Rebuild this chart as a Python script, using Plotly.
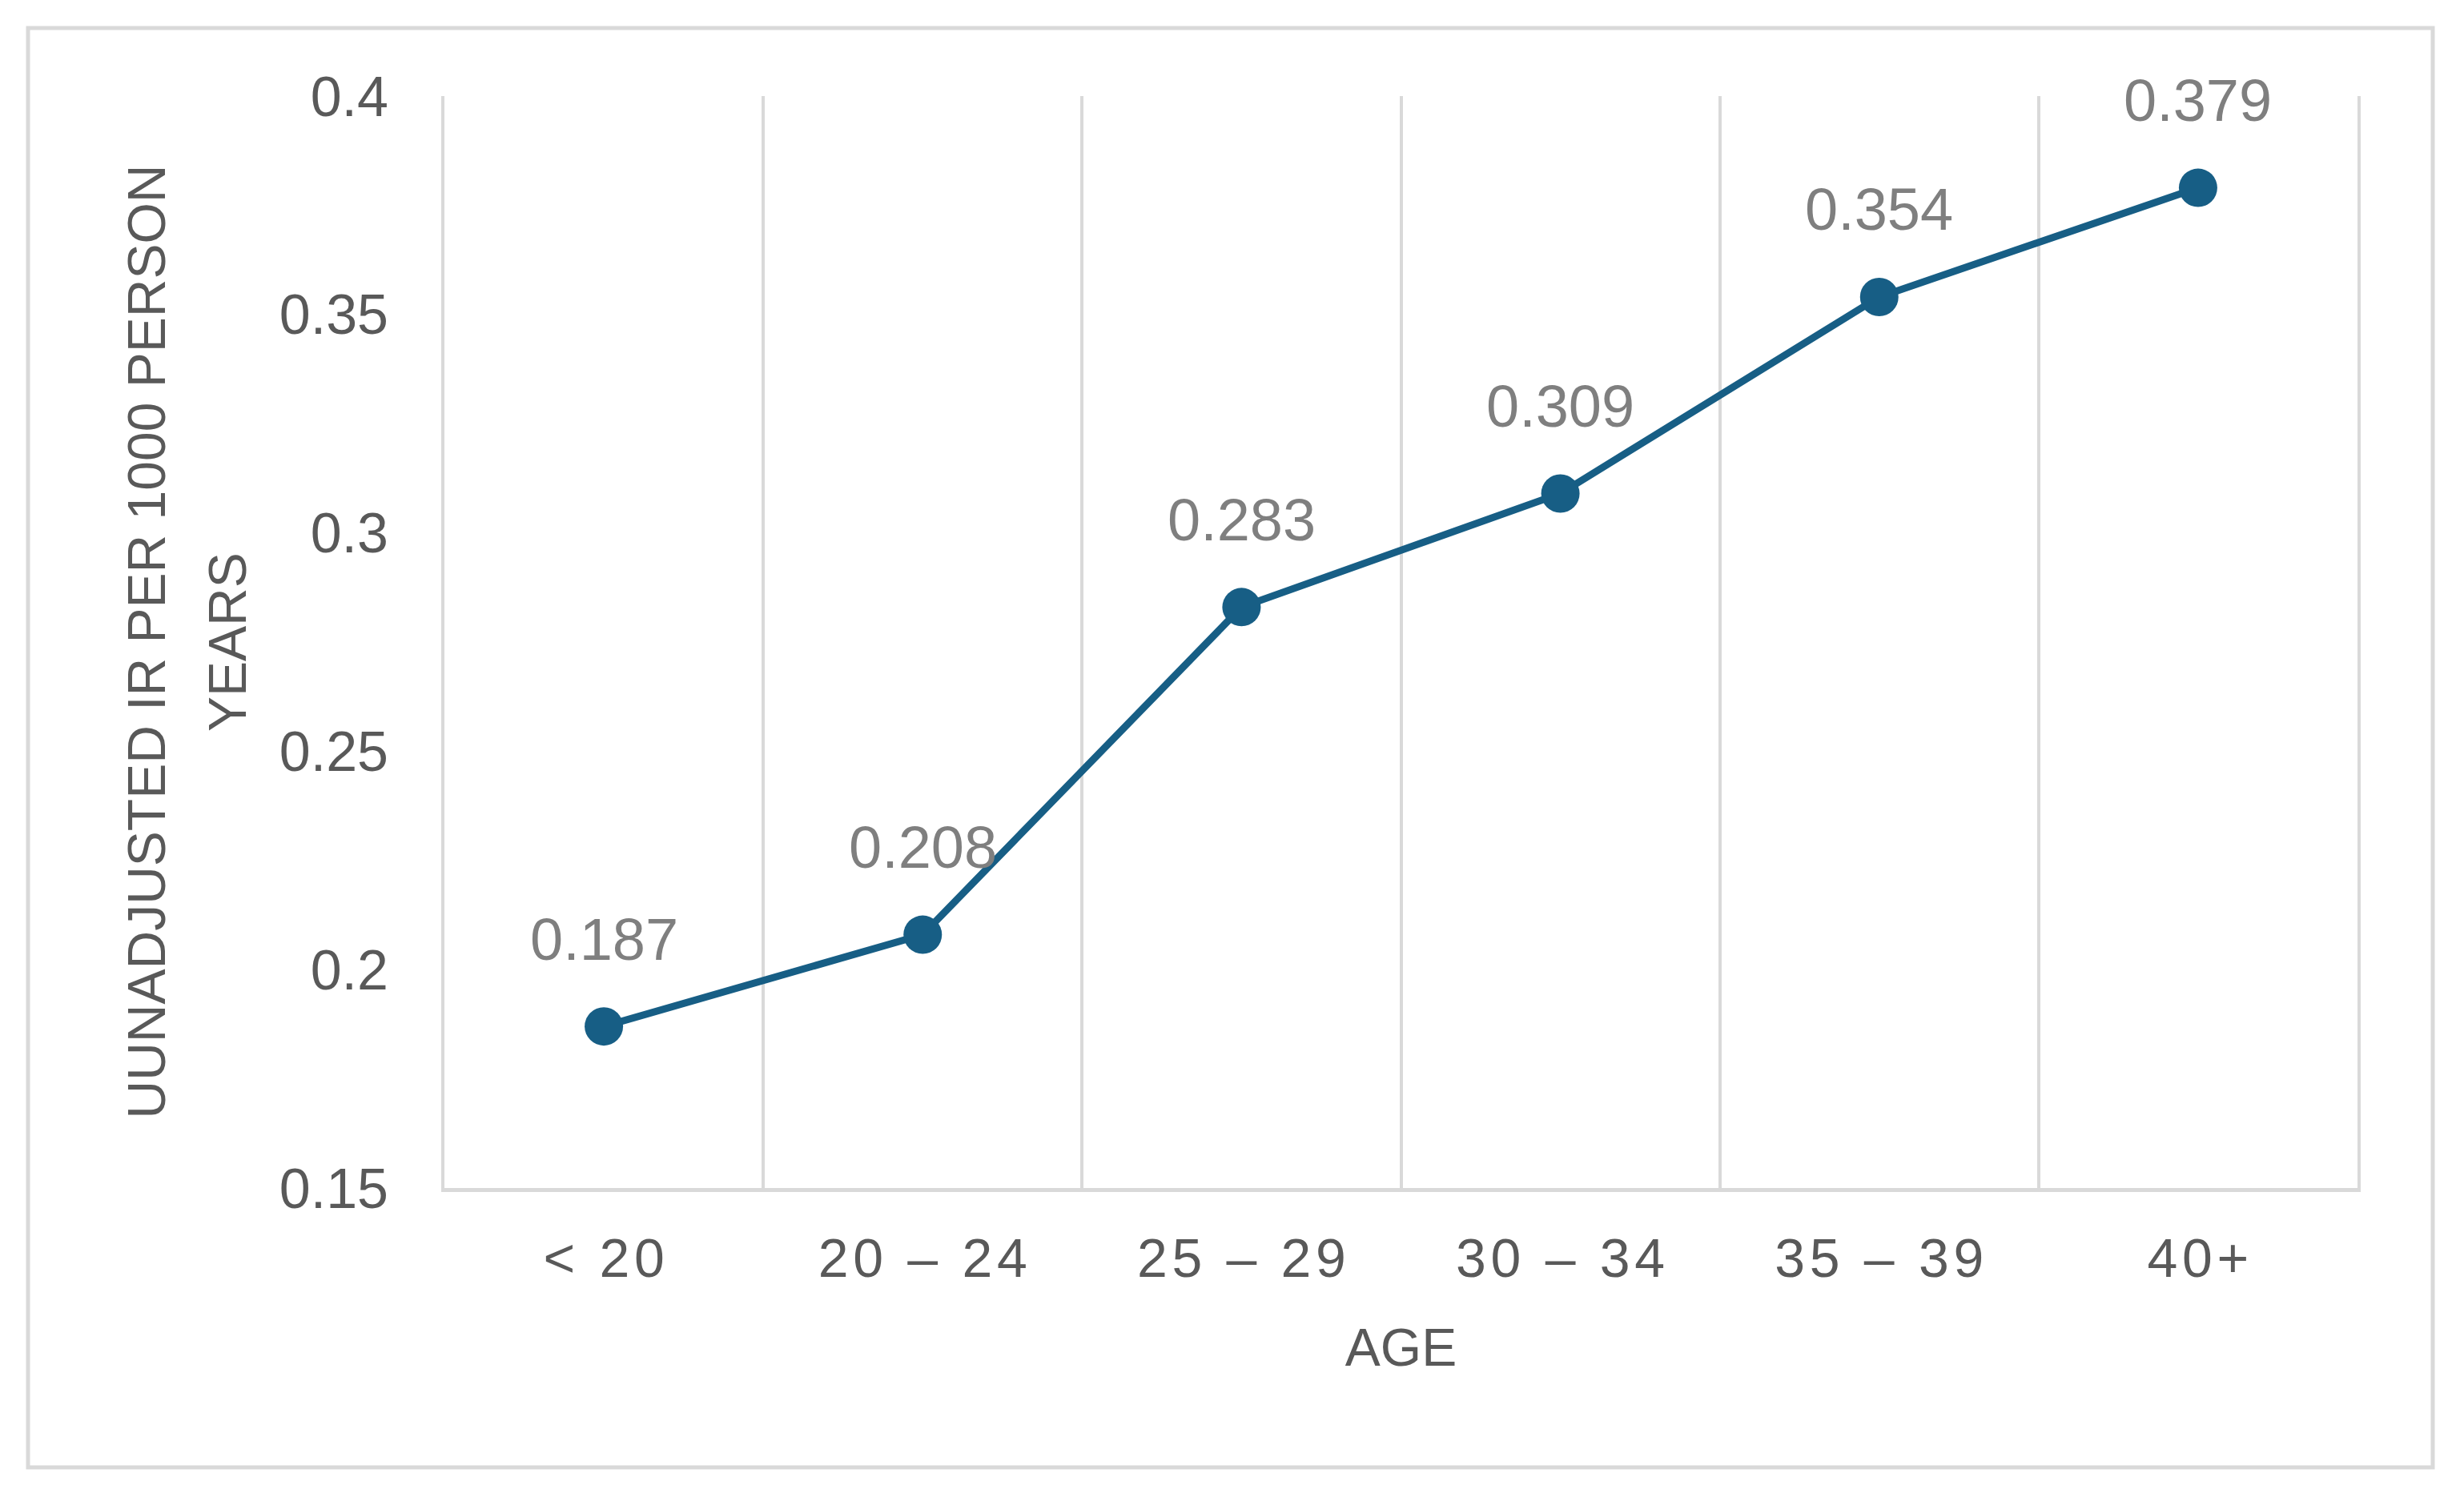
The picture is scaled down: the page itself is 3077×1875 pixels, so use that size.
import plotly.graph_objects as go

categories = ["< 20", "20 – 24", "25 – 29", "30 – 34", "35 – 39", "40+"]
values = [0.187, 0.208, 0.283, 0.309, 0.354, 0.379]
value_labels = ["0.187", "0.208", "0.283", "0.309", "0.354", "0.379"]
y_ticks = [0.15, 0.2, 0.25, 0.3, 0.35, 0.4]
y_ticktext = ["0.15", "0.2", "0.25", "0.3", "0.35", "0.4"]
y_title_lines = ["UUNADJUSTED IR PER 1000 PERSON", "YEARS"]
x_title = "AGE"

HS = "\u200a"
def spaced(s):
    return HS.join(list(s))

W, H = 3077, 1875
L, R, T, B = 547, 141, 112, 399
pw, ph = W - L - R, H - T - B

LINE = "#175E85"
GRID = "#D9D9D9"
FONT = "Liberation Sans, Arial, sans-serif"

xs = list(range(len(categories)))

fig = go.Figure()
fig.add_trace(go.Scatter(
    x=xs, y=values, mode="lines+markers",
    line=dict(color=LINE, width=9),
    marker=dict(color=LINE, size=48),
    hoverinfo="skip", showlegend=False,
))

for xi, v, t in zip(xs, values, value_labels):
    fig.add_annotation(x=xi, y=v, text=t, showarrow=False, yshift=109,
                       xanchor="center", yanchor="middle",
                       font=dict(family=FONT, size=74, color="#7F7F7F"))

# y-axis title, two rotated lines
for line_text, px in zip(y_title_lines, [174.5, 276]):
    fig.add_annotation(xref="paper", yref="paper", x=(px - L) / pw, y=0.5,
                       text=line_text, textangle=-90, showarrow=False,
                       xanchor="center", yanchor="middle",
                       font=dict(family=FONT, size=66, color="#595959"))

fig.update_layout(
    width=W, height=H,
    margin=dict(l=L, r=R, t=T, b=B, autoexpand=False),
    paper_bgcolor="white", plot_bgcolor="white",
    font=dict(family=FONT, color="#595959"),
    xaxis=dict(
        range=[-0.5, len(categories) - 0.5],
        tickmode="array", tickvals=xs, ticktext=[spaced(c) for c in categories],
        tickfont=dict(size=68, color="#595959"),
        showgrid=False, zeroline=False,
        showline=True, linecolor=GRID, linewidth=5,
        ticks="", ticklabelstandoff=24,
        minor=dict(tickmode="array", tickvals=[i - 0.5 for i in range(len(categories) + 1)],
                   showgrid=True, gridcolor=GRID, gridwidth=4, ticks=""),
        title=dict(text=x_title, font=dict(size=66, color="#595959"), standoff=54),
        fixedrange=True,
    ),
    yaxis=dict(
        range=[0.15, 0.4],
        tickmode="array", tickvals=y_ticks, ticktext=y_ticktext,
        tickfont=dict(size=70, color="#595959"),
        showgrid=False, zeroline=False,
        showline=True, linecolor=GRID, linewidth=4, mirror=True,
        ticks="", ticklabelstandoff=52,
        fixedrange=True,
    ),
    shapes=[dict(type="rect", xref="paper", yref="paper",
                 x0=(27 - L) / pw, x1=(3030 - L) / pw,
                 y0=(H - B - 1825) / ph, y1=(H - B - 27) / ph,
                 line=dict(color=GRID, width=5), fillcolor="rgba(0,0,0,0)", layer="below")],
)

fig.write_html("out.html")
